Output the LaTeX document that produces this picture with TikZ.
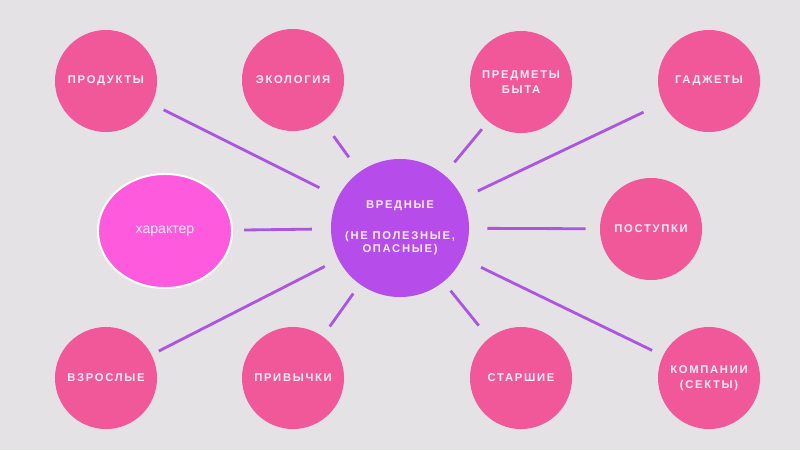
\documentclass[tikz,border=0pt]{standalone}
\usepackage{fontspec}
\setmainfont{Liberation Sans}
\newfontfamily\capsfont[LetterSpace=15]{Liberation Sans}
\usepackage{tikz}
\usetikzlibrary{shapes.geometric}
\usepackage{xcolor}
\definecolor{paper}{RGB}{229,226,229}
\definecolor{topicpink}{RGB}{241,88,154}
\definecolor{hubviolet}{RGB}{182,76,233}
\definecolor{linkviolet}{RGB}{170,86,224}
\definecolor{traitpink}{RGB}{253,90,222}
\definecolor{softwhite}{RGB}{250,236,243}

\tikzset{
  topic/.style={circle, fill=topicpink, minimum size=2.55cm, inner sep=0pt,
    text=softwhite, align=center, font=\capsfont\bfseries\fontsize{8}{10.5}\selectfont},
  hub/.style={circle, fill=hubviolet, minimum size=3.45cm, inner sep=0pt,
    text=softwhite, align=center, font=\capsfont\bfseries\fontsize{8}{9}\selectfont},
  trait/.style={ellipse, fill=traitpink, draw=white, line width=1.4pt,
    minimum width=3.35cm, minimum height=2.85cm, inner sep=0pt,
    text=softwhite, font=\fontsize{10}{12}\selectfont},
  link/.style={linkviolet, line width=2pt}
}

\begin{document}
\begin{tikzpicture}[x=0.025cm, y=-0.025cm]
  \fill[paper] (0,0) rectangle (800,450);
  % Centre
  \node[hub] (hub) at (400,228) {ВРЕДНЫЕ\\[13pt](НЕ ПОЛЕЗНЫЕ,\\ОПАСНЫЕ)};
  % Top row
  \node[topic] (prod) at (106,81) {ПРОДУКТЫ};
  \node[topic] (eco) at (293,80) {ЭКОЛОГИЯ};
  \node[topic] (items) at (521,82) {ПРЕДМЕТЫ\\БЫТА};
  \node[topic] (gadg) at (709,81) {ГАДЖЕТЫ};
  % Middle row
  \node[trait] (char) at (165,231) {характер};
  \node[topic] (deeds) at (651,229) {ПОСТУПКИ};
  % Bottom row
  \node[topic] (adults) at (106,378) {ВЗРОСЛЫЕ};
  \node[topic] (habits) at (293,378) {ПРИВЫЧКИ};
  \node[topic] (elders) at (521,378) {СТАРШИЕ};
  \node[topic] (groups) at (709,378) {КОМПАНИИ\\(СЕКТЫ)};
  % Links
  \draw[link, shorten <=0.52cm, shorten >=0.33cm] (hub) -- (prod);
  \draw[link, shorten <=0.45cm, shorten >=0.45cm] (hub) -- (eco);
  \draw[link, shorten <=0.4cm, shorten >=0.25cm] (hub) -- (items);
  \draw[link, shorten <=0.42cm, shorten >=0.53cm] (hub) -- (gadg);
  \draw[link, shorten <=0.47cm, shorten >=0.28cm] (hub) -- (char);
  \draw[link, shorten <=0.45cm, shorten >=0.35cm] (hub) -- (deeds);
  \draw[link, shorten <=0.38cm, shorten >=0.2cm] (hub) -- (adults);
  \draw[link, shorten <=0.28cm, shorten >=0.3cm] (hub) -- (habits);
  \draw[link, shorten <=0.28cm, shorten >=0.4cm] (hub) -- (elders);
  \draw[link, shorten <=0.52cm, shorten >=0.3cm] (hub) -- (groups);
\end{tikzpicture}
\end{document}
